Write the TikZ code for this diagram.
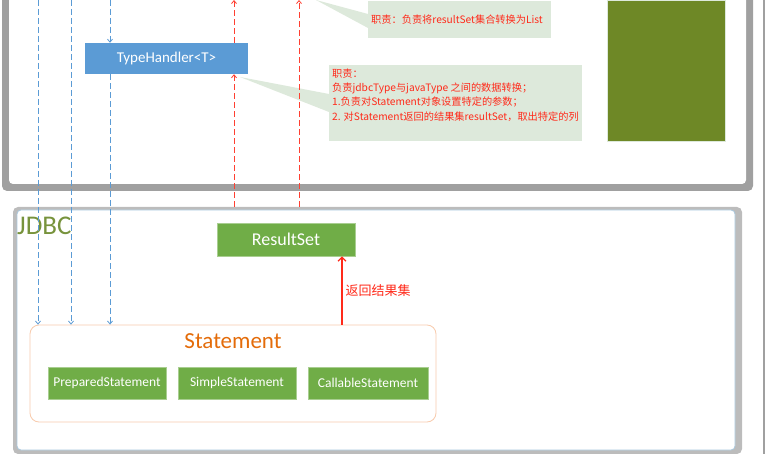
\documentclass[tikz,border=0pt]{standalone}
\usepackage{fontspec}
\setmainfont{Carlito}
\newfontfamily\cjk{Noto Sans CJK SC}
\usetikzlibrary{arrows.meta}
\definecolor{thblue}{HTML}{5B9BD5}
\definecolor{gbox}{HTML}{70AD47}
\definecolor{callfill}{HTML}{DDE9DB}
\definecolor{callred}{HTML}{FF2A1A}
\definecolor{olivebox}{HTML}{6E8826}
\definecolor{jdbcgreen}{HTML}{77933C}
\definecolor{stmtorange}{HTML}{E46C0A}
\definecolor{stmtborder}{HTML}{F8CBAD}
\definecolor{shadowgrey}{HTML}{A0A0A0}
\definecolor{panelblue}{HTML}{A9C7DD}
\tikzset{
  bluebox/.style={fill=thblue, text=white, minimum width=163pt, minimum height=31pt, inner sep=0pt, font=\fontsize{15}{17}\selectfont},
  greenbox/.style={fill=gbox, draw=gbox!60!white, line width=0.6pt, text=white, inner sep=0pt},
  callbox/.style={fill=callfill, inner sep=0pt},
  bluedash/.style={draw=thblue, line width=0.8pt, dash pattern=on 6pt off 3pt, -{Straight Barb[length=3pt,width=5pt]}},
  reddash/.style={draw=callred!90, line width=0.8pt, dash pattern=on 6pt off 3pt, -{Straight Barb[length=3pt,width=5pt]}},
  redtext/.style={text=callred, font=\cjk\fontsize{10.2}{14.3}\selectfont, inner sep=0pt}
}
\begin{document}
\begin{tikzpicture}[x=1pt,y=-1pt]
\useasboundingbox (0,0) rectangle (767,454);
% top panel
\fill[shadowgrey, rounded corners=5pt] (2,-12) rectangle (753,191);
\fill[white, rounded corners=4pt] (9,-12) rectangle (746,184);
% right edge line
\draw[shadowgrey, line width=1.5pt] (764,0) -- (764,454);
% bottom panel
\fill[shadowgrey!70, rounded corners=5pt] (13,207) rectangle (742,454);
\filldraw[fill=white, draw=panelblue, line width=0.8pt, rounded corners=4pt] (17,210) rectangle (735,450);
\node[anchor=north west, text=jdbcgreen, inner sep=0pt, font=\fontsize{27}{30}\selectfont] (jdbc) at (17,217) {JDBC};

% olive rectangle
\node[fill=olivebox, draw=callfill, line width=0.8pt, minimum width=118pt, minimum height=141pt, inner sep=0pt, anchor=north west] (olive) at (607,0) {};

% callout pointers
\fill[callfill] (316,0) -- (368,14) -- (368,28) -- cycle;
\fill[callfill] (240,77) -- (329,94) -- (329,112) -- cycle;
% callouts
\node[callbox, minimum width=183pt, minimum height=37pt, anchor=north west] (c1) at (368,1) {};
\node[redtext, anchor=west] (c1t) at (371,19.5) {职责：负责将resultSet集合转换为List};
\node[callbox, minimum width=253pt, minimum height=76pt, anchor=north west] (c2) at (329,65) {};
\node[redtext, anchor=north west, align=left] (c2t) at (332,68.5) {职责：\\负责jdbcType与javaType 之间的数据转换；\\1.负责对Statement对象设置特定的参数；\\2. 对Statement返回的结果集resultSet，取出特定的列};

% TypeHandler
\node[bluebox] (th) at (166.5,58.5) {TypeHandler<T>};

% ResultSet
\node[greenbox, minimum width=138pt, minimum height=33pt, font=\fontsize{18}{20}\selectfont] (rs) at (286,239.5) {ResultSet};

% Statement group
\node[draw=stmtborder, line width=0.8pt, rounded corners=9pt, minimum width=406pt, minimum height=97pt, inner sep=0pt] (stmt) at (233,373.5) {};
\node[text=stmtorange, font=\fontsize{23}{25}\selectfont, inner sep=0pt] (stmtt) at (233,341) {Statement};
\node[greenbox, minimum width=118pt, minimum height=32pt, font=\fontsize{13.5}{15}\selectfont] (ps) at (107,383) {PreparedStatement};
\node[greenbox, minimum width=118pt, minimum height=32pt, font=\fontsize{13.5}{15}\selectfont] (ss) at (237,383) {SimpleStatement};
\node[greenbox, minimum width=120pt, minimum height=32pt, font=\fontsize{13.5}{15}\selectfont] (cs) at (368,383) {CallableStatement};

% blue dashed connectors
\coordinate (b1) at (38,0);
\coordinate (b2) at (71,0);
\coordinate (b3) at (110,0);
\draw[bluedash] (b1) -- (b1 |- stmt.north);
\draw[bluedash] (b2) -- (b2 |- stmt.north);
\draw[bluedash] (b3) -- (b3 |- th.north);
\draw[bluedash] (th.south -| b3) -- (b3 |- stmt.north);

% red dashed connectors
\coordinate (r1top) at (234,0);
\coordinate (r1bot) at (234,207);
\coordinate (r2top) at (299,0);
\coordinate (r2bot) at (299,207);
\draw[reddash] (r1bot) -- (th.south -| r1bot);
\draw[reddash] (th.north -| r1top) -- (r1top);
\draw[reddash] (r2bot) -- (r2top);

% return arrow
\coordinate (ret) at (342,0);
\draw[callred, line width=1.3pt, -{Straight Barb[length=4pt,width=8pt]}] (stmt.north -| ret) -- node[right=3pt, text=callred, font=\cjk\fontsize{13}{15}\selectfont, inner sep=0pt] (retl) {返回结果集} (rs.south -| ret);
\end{tikzpicture}
\end{document}
